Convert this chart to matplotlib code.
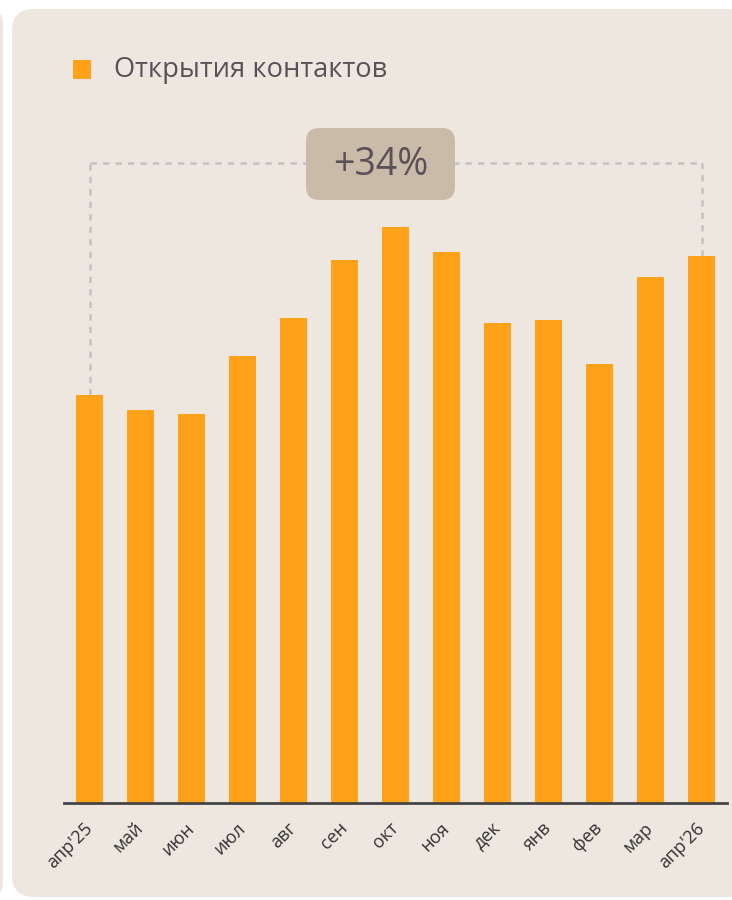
import matplotlib.pyplot as plt
import matplotlib.patches as patches
from matplotlib.patches import FancyBboxPatch

plt.rcParams['font.family'] = ['Open Sans', 'DejaVu Sans']

# data
months = ["апр'25", "май", "июн", "июл", "авг", "сен", "окт",
          "ноя", "дек", "янв", "фев", "мар", "апр'26"]
values = [408, 393, 389, 447, 485, 543, 576, 551, 480, 483, 439, 526, 547]
series_name = "Открытия контактов"
change_label = "+34%"

orange = '#FFA21A'
panel = '#EDE7E0'
text_col = '#5A5058'

W, H = 732, 900
fig = plt.figure(figsize=(W / 100, H / 100), dpi=100)
fig.patch.set_facecolor('white')

# background panels, placed in pixels of the 732x900 canvas
main = FancyBboxPatch((12 / W, 1 - 897 / H), 740 / W, 888 / H,
                      boxstyle="round,pad=0,rounding_size=0.03",
                      transform=fig.transFigure, facecolor=panel,
                      edgecolor='none', mutation_aspect=W / H, zorder=-2)
fig.patches.append(main)
left = FancyBboxPatch((-30 / W, 1 - 897 / H), 33 / W, 888 / H,
                      boxstyle="round,pad=0,rounding_size=0.02",
                      transform=fig.transFigure, facecolor=panel,
                      edgecolor='none', mutation_aspect=W / H, zorder=-2)
fig.patches.append(left)

ax = fig.add_axes([64 / W, 1 - 803 / H, 663 / W, 703 / H])
ax.set_facecolor('none')

x = range(len(months))
ax.bar(x, values, width=0.53, color=orange, zorder=2)
ax.set_xlim(-0.5, len(months) - 0.5)
ax.set_ylim(0, 703)

for s in ['top', 'right', 'left']:
    ax.spines[s].set_visible(False)
ax.spines['bottom'].set_color('#444444')
ax.spines['bottom'].set_linewidth(2)
ax.spines['bottom'].set_zorder(3)
ax.set_yticks([])
ax.set_xticks(list(x))
ax.set_xticklabels(months, rotation=45, ha='right', va='center',
                   rotation_mode='anchor', fontsize=13, color='#333333')
ax.tick_params(axis='x', length=0, pad=16)

# bracket between first and last bar
top = 640
dash = dict(color='#C2C2C2', linestyle=(0, (2.5, 2.5)), linewidth=1.8,
            clip_on=False, zorder=1)
ax.plot([0, 0], [values[0], top], **dash)
ax.plot([len(months) - 1, len(months) - 1], [values[-1], top], **dash)
ax.plot([0, len(months) - 1], [top, top], **dash)

# badge
bx0, by0, bx1, by1 = 306, 128, 455, 200
badge = FancyBboxPatch((bx0 / W, 1 - by1 / H), (bx1 - bx0) / W, (by1 - by0) / H,
                       boxstyle="round,pad=0,rounding_size=0.018",
                       transform=fig.transFigure, facecolor='#C9BBA8',
                       edgecolor='none', mutation_aspect=W / H, zorder=3)
fig.patches.append(badge)
fig.text((bx0 + bx1) / 2 / W, 1 - 165 / H, change_label, fontsize=27,
         color=text_col, ha='center', va='center', zorder=4)

# legend
fig.patches.append(patches.Rectangle((73 / W, 1 - 79 / H), 18 / W, 19 / H,
                                     transform=fig.transFigure,
                                     facecolor=orange, edgecolor='none'))
fig.text(114 / W, 1 - 70 / H, series_name, fontsize=19.6, color=text_col,
         ha='left', va='center')

fig.savefig('out.png', dpi=100)
